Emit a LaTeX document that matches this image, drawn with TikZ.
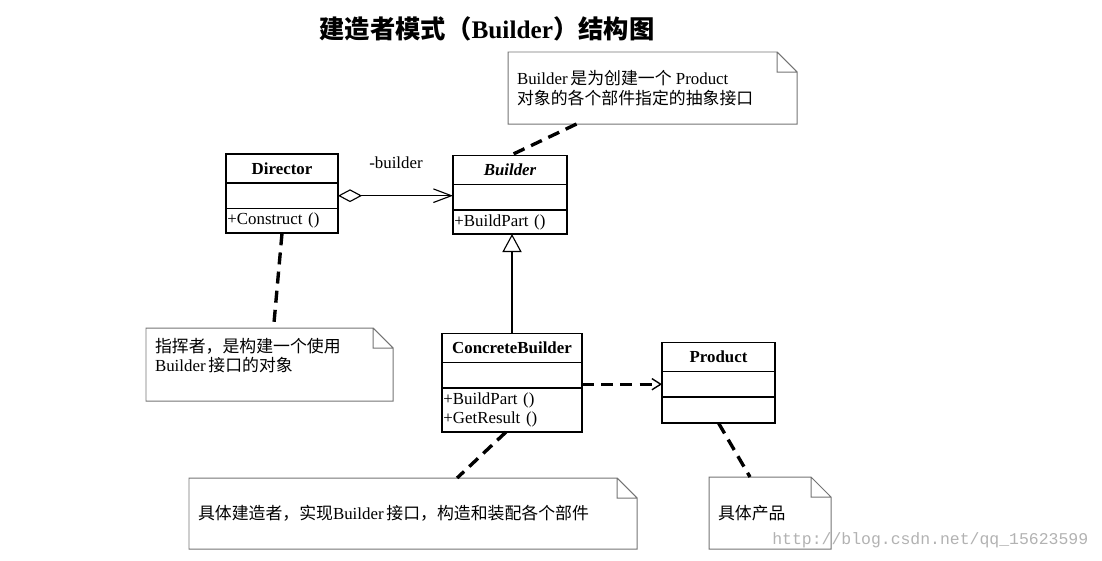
\documentclass[tikz,border=0pt]{standalone}
\usepackage{fontspec}
\setmainfont{Liberation Serif}
\newfontfamily\cjk{Noto Sans CJK SC}
\newfontfamily\wmfont{Liberation Mono}
\usetikzlibrary{positioning, arrows.meta}

\begin{document}
\begin{tikzpicture}[x=0.025cm,y=-0.025cm,
                    font=\fontsize{12}{14}\selectfont,
                    class name/.style={draw,line width=1.2pt,outer sep=0pt,inner sep=0pt,minimum width=#1,minimum height=0.72cm,font=\fontsize{12}{14}\selectfont\bfseries},
                    class attr/.style={draw,line width=1.2pt,outer sep=0pt,inner sep=0pt,minimum width=#1,minimum height=0.64cm},
                    class ops/.style={draw,line width=1.2pt,outer sep=0pt,inner xsep=0.035cm,inner ysep=0pt,text width=#1,align=left},
                    note/.style={outer sep=0pt,inner xsep=0.225cm,inner ysep=0.25cm,anchor=north west},
                    note line/.style={draw=black!55,line width=0.7pt},
                    note link/.style={line width=2.4pt,dash pattern=on 0.3cm off 0.18cm}]
 \useasboundingbox (0,0) rectangle (1102,560);

%Title
 \node[font=\fontsize{18}{20}\selectfont\bfseries] (Title) at (487,29) {{\cjk 建造者模式（}Builder{\cjk ）结构图}};

%Classes
 \node[class name=2.8cm] (Director) at (282,168.5) {Director};
 \node[class attr=2.8cm,below=0pt of Director] (DirectorAttr) {};
 \node[class ops=2.73cm,minimum height=0.62cm,below=0pt of DirectorAttr] (DirectorOps) {+Construct ()};

 \node[class name=2.85cm] (Builder) at (510,170) {\itshape Builder};
 \node[class attr=2.85cm,below=0pt of Builder] (BuilderAttr) {};
 \node[class ops=2.78cm,minimum height=0.6cm,below=0pt of BuilderAttr] (BuilderOps) {+BuildPart ()};

 \node[class name=3.5cm] (Concrete) at (512,348) {ConcreteBuilder};
 \node[class attr=3.5cm,below=0pt of Concrete] (ConcreteAttr) {};
 \node[class ops=3.43cm,minimum height=1.1cm,below=0pt of ConcreteAttr] (ConcreteOps) {+BuildPart ()\\+GetResult ()};

 \node[class name=2.825cm] (Product) at (718.5,357) {Product};
 \node[class attr=2.825cm,below=0pt of Product] (ProductAttr) {};
 \node[class ops=2.755cm,minimum height=0.65cm,below=0pt of ProductAttr] (ProductOps) {};

%Relations
 \node (BuilderRole) at (396,163) {-builder};
 \draw[line width=0.8pt,{Diamond[open,length=0.6cm,width=0.32cm]}-{Straight Barb[length=0.45cm,width=0.34cm]}] (DirectorAttr.east) -- (DirectorAttr.east -| BuilderAttr.west);
 \draw[line width=0.8pt,-{Triangle[open,length=0.45cm,width=0.48cm]}] (Concrete.north) -- (Concrete.north |- BuilderOps.south);
 \draw[line width=2.4pt,dash pattern=on 0.3cm off 0.18cm,-{Straight Barb[length=0.22cm,width=0.28cm,line width=1pt]}] (ProductAttr.west -| ConcreteAttr.east) -- (ProductAttr.west);

%Notes
 \node[note] (BuilderNote) at (508,52) {\parbox[c][1.3cm][c]{6.775cm}{Builder\,{\cjk 是为创建一个} Product\\{\cjk 对象的各个部件指定的抽象接口}}};
 \node[note] (DirectorNote) at (146,328) {\parbox[t][1.325cm][t]{5.725cm}{{\cjk 指挥者，是构建一个使用}\\Builder\,{\cjk 接口的对象}}};
 \node[note] (ConcreteNote) at (189,478) {\parbox[c][1.275cm][c]{10.75cm}{{\cjk 具体建造者，实现}Builder\,{\cjk 接口，构造和装配各个部件}}};
 \node[note] (ProductNote) at (709,477) {\parbox[c][1.3cm][c]{2.6cm}{{\cjk 具体产品}}};

 \foreach \n in {BuilderNote,DirectorNote,ConcreteNote,ProductNote}
   \draw[note line] (\n.north west) -- ([xshift=-0.5cm]\n.north east) -- ([yshift=-0.5cm]\n.north east) -- (\n.south east) -- (\n.south west) -- cycle
     ([xshift=-0.5cm]\n.north east) |- ([yshift=-0.5cm]\n.north east);

%Note links
 \draw[note link] ([xshift=-1.9cm]BuilderNote.south) -- (Builder.north);
 \draw[note link] (DirectorOps.south) -- ([xshift=0.1cm]DirectorNote.north);
 \draw[note link] ([xshift=-0.15cm]ConcreteOps.south) -- ([xshift=1.1cm]ConcreteNote.north);
 \draw[note link] (ProductOps.south) -- ([xshift=-0.5cm]ProductNote.north);

 \node[font=\wmfont\fontsize{11.7}{13}\selectfont,text=black!30,anchor=west,inner sep=0pt] (Watermark) at (772,540) {http://blog.csdn.net/qq\_15623599};

\end{tikzpicture}
\end{document}
